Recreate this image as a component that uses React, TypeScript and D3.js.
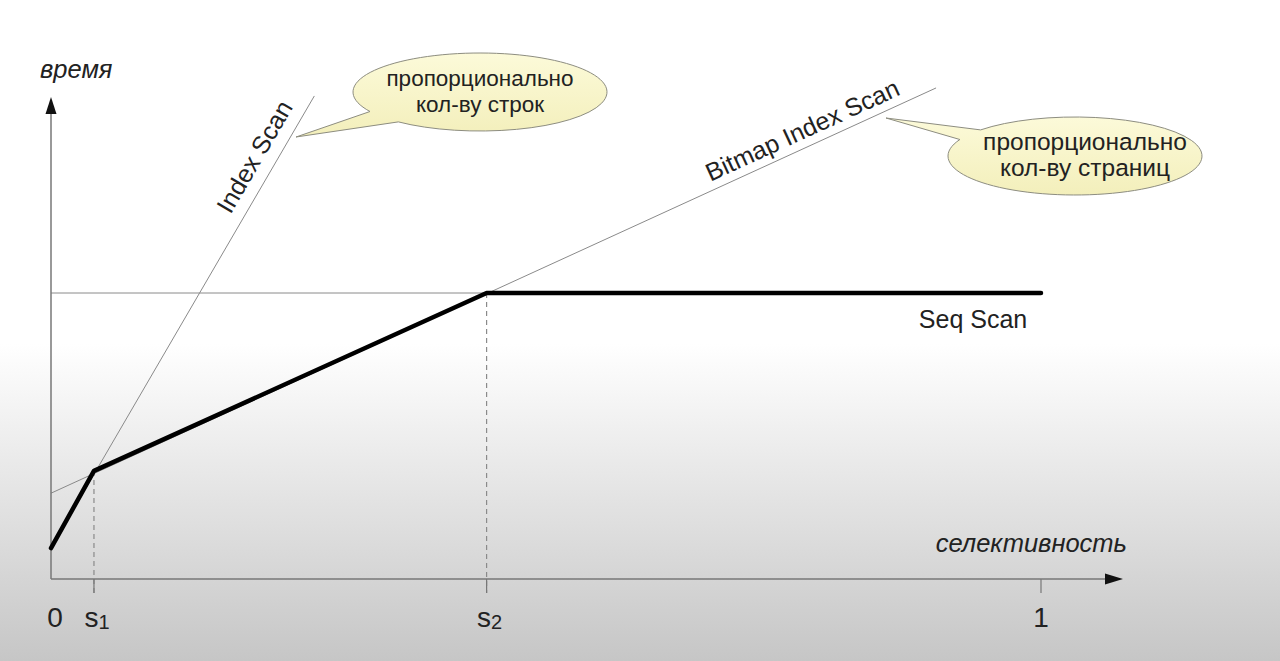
import * as d3 from "d3";
import { useRef, useEffect } from "react";

// selectivity ticks on the x axis (fraction of rows)
const X_TICKS = [0, 0.0434, 0.44, 1];
const X_TICK_LABELS = [["0", ""], ["s", "1"], ["s", "2"], ["1", ""]];

// access method cost lines, [selectivity, time]
const INDEX_SCAN = [[0, 0.108], [0.266, 1.689]];
const BITMAP_SCAN = [[0, 0.3], [0.894, 1.717]];
const SEQ_SCAN = [[0, 1], [1, 1]];
const BEST_PLAN = [[0, 0.108], [0.0434, 0.378], [0.44, 1], [1, 1]];

const CALLOUT_TEXT = [
    ["пропорционально", "кол-ву строк"],
    ["пропорционально", "кол-ву страниц"],
];

const W = 1280;
const H = 661;
const FONT = "'Liberation Sans', Arial, sans-serif";
const INK = "#222";
const THIN = "#8a8a8a";

const App = () => {
    const svgRef = useRef<SVGSVGElement>(null);

    useEffect(() => {
        const svg = d3.select(svgRef.current);
        svg.selectAll("*").remove();

        const x = d3.scaleLinear().domain([0, 1]).range([51, 1041]);
        const y = d3.scaleLinear().domain([0, 1]).range([579, 293]);

        const defs = svg.append("defs");
        const bg = defs.append("linearGradient")
            .attr("id", "bg").attr("x1", 0).attr("y1", 0).attr("x2", 0).attr("y2", 1);
        bg.append("stop").attr("offset", "0%").attr("stop-color", "#ffffff");
        bg.append("stop").attr("offset", "52%").attr("stop-color", "#ffffff");
        bg.append("stop").attr("offset", "100%").attr("stop-color", "#c6c6c6");

        const bubble = defs.append("linearGradient")
            .attr("id", "bubble").attr("x1", 0).attr("y1", 0).attr("x2", 0).attr("y2", 1);
        bubble.append("stop").attr("offset", "0%").attr("stop-color", "#fcfad9");
        bubble.append("stop").attr("offset", "100%").attr("stop-color", "#f3efbb");

        svg.append("rect").attr("width", W).attr("height", H).attr("fill", "url(#bg)");

        const line = d3.line<number[]>().x(d => x(d[0])).y(d => y(d[1]));

        // guide lines for each access method
        [INDEX_SCAN, BITMAP_SCAN, SEQ_SCAN].forEach(series => {
            svg.append("path")
                .datum(series)
                .attr("fill", "none")
                .attr("stroke", THIN)
                .attr("stroke-width", 1)
                .attr("d", line);
        });

        // dashed drop lines at s1 and s2
        [1, 2].forEach(i => {
            const p = BEST_PLAN[i];
            svg.append("line")
                .attr("x1", x(p[0])).attr("x2", x(p[0]))
                .attr("y1", y(p[1])).attr("y2", y(0) + 14)
                .attr("stroke", THIN)
                .attr("stroke-width", 1.2)
                .attr("stroke-dasharray", "5,4");
        });

        // axes
        const x0 = x(0), y0 = y(0);
        svg.append("line")
            .attr("x1", x0).attr("y1", y0).attr("x2", x0).attr("y2", 112)
            .attr("stroke", "#777").attr("stroke-width", 1.5);
        svg.append("path")
            .attr("d", `M${x0},97 L${x0 - 5.5},114 L${x0 + 5.5},114 Z`)
            .attr("fill", "#111");
        svg.append("line")
            .attr("x1", x0).attr("y1", y0).attr("x2", 1106).attr("y2", y0)
            .attr("stroke", "#777").attr("stroke-width", 1.5);
        svg.append("path")
            .attr("d", `M1123,${y0} L1105,${y0 - 5.5} L1105,${y0 + 5.5} Z`)
            .attr("fill", "#111");

        X_TICKS.forEach((t, i) => {
            if (t > 0) {
                svg.append("line")
                    .attr("x1", x(t)).attr("x2", x(t))
                    .attr("y1", y0).attr("y2", y0 + 14)
                    .attr("stroke", "#777").attr("stroke-width", 1.2);
            }
            const [main, sub] = X_TICK_LABELS[i];
            const txt = svg.append("text")
                .attr("x", x(t) + (sub ? 3 : t === 0 ? 4 : 0))
                .attr("y", 627)
                .attr("text-anchor", "middle")
                .attr("font-family", FONT)
                .attr("font-size", 28)
                .attr("fill", INK);
            txt.append("tspan").text(main);
            if (sub) txt.append("tspan").attr("font-size", 20).attr("dy", 2).text(sub);
        });

        // best plan envelope
        svg.append("path")
            .datum(BEST_PLAN)
            .attr("fill", "none")
            .attr("stroke", "#000")
            .attr("stroke-width", 4.5)
            .attr("stroke-linejoin", "round")
            .attr("stroke-linecap", "round")
            .attr("d", line);

        // axis titles
        svg.append("text")
            .attr("x", 40).attr("y", 78)
            .attr("font-family", FONT).attr("font-style", "italic")
            .attr("font-size", 25.5).attr("fill", INK)
            .text("время");
        svg.append("text")
            .attr("x", 1127).attr("y", 552)
            .attr("text-anchor", "end")
            .attr("font-family", FONT).attr("font-style", "italic")
            .attr("font-size", 25.5).attr("fill", INK)
            .text("селективность");

        // line labels
        const angle = (s: number[][]) =>
            -Math.atan2(y(s[0][1]) - y(s[1][1]), x(s[1][0]) - x(s[0][0])) * 180 / Math.PI;
        const lineLabel = (text: string, cx: number, cy: number, rot: number) => {
            svg.append("text")
                .attr("transform", `translate(${cx},${cy}) rotate(${rot})`)
                .attr("text-anchor", "middle")
                .attr("font-family", FONT)
                .attr("font-size", 25)
                .attr("fill", INK)
                .text(text);
        };
        lineLabel("Index Scan", 262, 161, angle(INDEX_SCAN));
        lineLabel("Bitmap Index Scan", 806, 138, angle(BITMAP_SCAN));
        lineLabel("Seq Scan", 973, 328, 0);

        // speech bubbles
        const calloutPath = (cx: number, cy: number, rx: number, ry: number,
                             a1: number, a2: number, tip: number[]) => {
            const p = (a: number) => {
                const r = a * Math.PI / 180;
                return [cx + rx * Math.cos(r), cy + ry * Math.sin(r)];
            };
            const [p1, p2] = [p(a1), p(a2)];
            return `M${p1[0]},${p1[1]} L${tip[0]},${tip[1]} L${p2[0]},${p2[1]} ` +
                `A${rx},${ry} 0 1 1 ${p1[0]},${p1[1]} Z`;
        };
        const callout = (lines: string[], cx: number, cy: number, a1: number, a2: number,
                         tip: number[], size: number, tx: number) => {
            svg.append("path")
                .attr("d", calloutPath(cx, cy, 127, 39, a1, a2, tip))
                .attr("fill", "url(#bubble)")
                .attr("stroke", "#8d8d80")
                .attr("stroke-width", 1);
            lines.forEach((l, i) => {
                svg.append("text")
                    .attr("x", cx + tx).attr("y", cy - 6 + i * 26)
                    .attr("text-anchor", "middle")
                    .attr("font-family", FONT)
                    .attr("font-size", size)
                    .attr("fill", INK)
                    .text(l);
            });
        };
        callout(CALLOUT_TEXT[0], 480, 92, 130, 150, [296, 137], 22.5, 0);
        callout(CALLOUT_TEXT[1], 1075, 156, 205, 222, [886, 118], 24.5, 10);
    }, []);

    return (
        <svg ref={svgRef} width={W} height={H}
             style={{ position: "absolute", left: 0, top: 0, display: "block" }} />
    );
};

export default App;
